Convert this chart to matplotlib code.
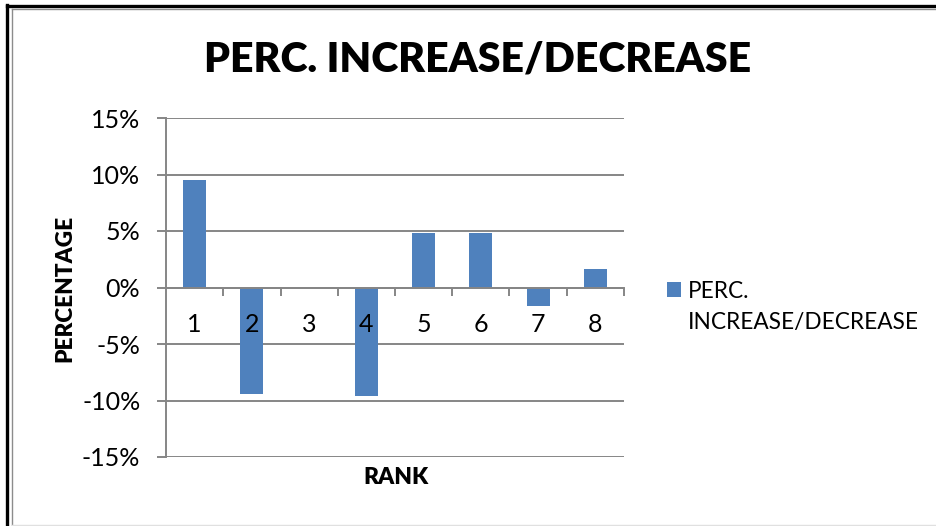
import matplotlib.pyplot as plt
from matplotlib.lines import Line2D
from matplotlib.ticker import FuncFormatter

ranks = ["1", "2", "3", "4", "5", "6", "7", "8"]
perc_change = [9.5, -9.4, 0.0, -9.6, 4.8, 4.8, -1.6, 1.6]
series_name = "PERC. INCREASE/DECREASE"

plt.rcParams["font.family"] = ["Lato", "DejaVu Sans"]
bar_color = "#4F81BD"
grid_color = "#868686"

W, H = 937, 526
fig = plt.figure(figsize=(W / 100, H / 100), dpi=100)
ax = fig.add_axes([166 / W, 1 - 457 / H, (624 - 166) / W, (457 - 118) / H])

# legend entry wraps after the first word
first_word, rest = series_name.split(" ", 1)

x = list(range(len(ranks)))
ax.bar(x, perc_change, width=0.4, color=bar_color, zorder=3, label=first_word)

ax.set_xlim(-0.5, len(ranks) - 0.5)
ax.set_ylim(-15, 15)
ax.set_yticks(range(-15, 16, 5))
ax.yaxis.set_major_formatter(FuncFormatter(lambda v, p: f"{v:.0f}%"))
ax.grid(axis="y", color=grid_color, linewidth=1.4, zorder=0)

# category axis sits on the zero line
for side in ["top", "right"]:
    ax.spines[side].set_visible(False)
ax.spines["bottom"].set_position(("data", 0))
ax.spines["bottom"].set_color(grid_color)
ax.spines["bottom"].set_linewidth(1.4)
ax.spines["bottom"].set_zorder(4)
ax.spines["left"].set_color(grid_color)
ax.spines["left"].set_linewidth(1.4)

ax.set_xticks(x)
ax.set_xticklabels(ranks)
ax.set_xticks([i + 0.5 for i in x], minor=True)
ax.tick_params(axis="x", which="major", length=0, pad=18, labelsize=18)
ax.tick_params(axis="x", which="minor", length=5.8, width=1.4, color=grid_color, direction="out")
ax.tick_params(axis="y", length=6.5, width=1.4, color=grid_color, pad=12, labelsize=18)
ax.xaxis.set_zorder(5)  # rank numbers stay readable over the bars

fig.text(396 / W, 1 - 478 / H, "RANK", ha="center", va="center", fontsize=16.5, fontweight="heavy")
fig.text(65 / W, 1 - 288 / H, "PERCENTAGE", ha="center", va="center", rotation=90,
         fontsize=16.3, fontweight="heavy")
fig.text(478 / W, 1 - 59 / H, series_name, ha="center", va="center",
         fontsize=29.5, fontweight="heavy")

ax.legend(loc="center left", bbox_to_anchor=(667 / W, 1 - 291 / H), bbox_transform=fig.transFigure,
          frameon=False, fontsize=16.3, handlelength=0.62, handleheight=0.62, handletextpad=0.3,
          borderpad=0, borderaxespad=0)
fig.text(688 / W, 1 - 322 / H, rest, ha="left", va="center", fontsize=16.3)

# outer frame of the chart area
def px_line(xs, ys, color, lw):
    fig.add_artist(Line2D([v / W for v in xs], [1 - v / H for v in ys],
                          color=color, linewidth=lw, transform=fig.transFigure))

px_line([7.5, 7.5], [5, H], "black", 2.4)
px_line([7.5, W], [5.5, 5.5], "black", 2.4)
px_line([12, 12], [9, H], "#8c8c8c", 1.0)
px_line([12, W], [9, 9], "#8c8c8c", 1.0)
px_line([12, W], [525, 525], "#e0e0e0", 1.0)

fig.savefig("out.png", dpi=100)
